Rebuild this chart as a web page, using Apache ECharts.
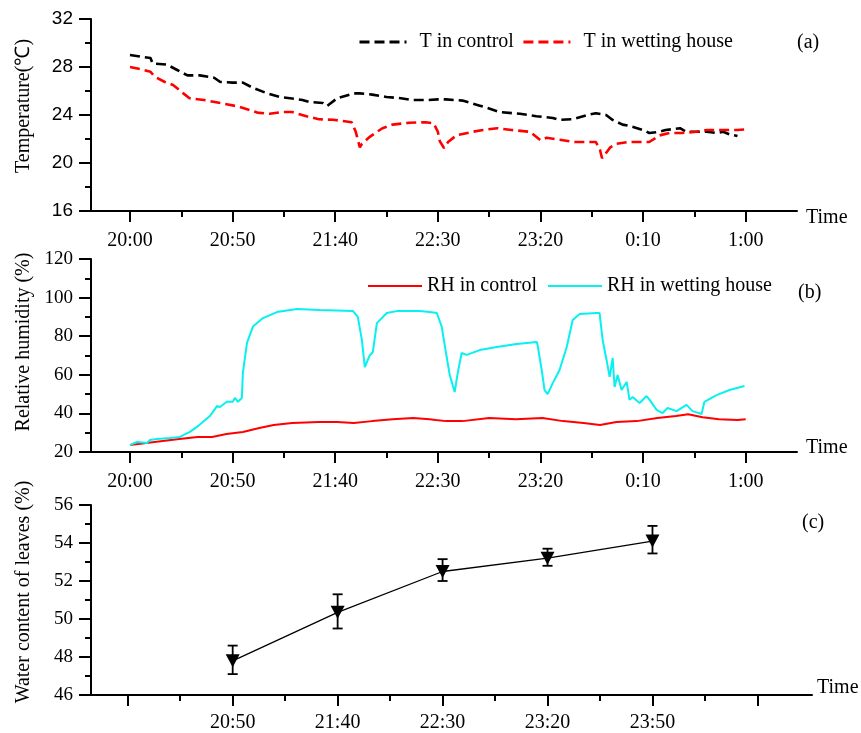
<!DOCTYPE html>
<html>
<head>
<meta charset="utf-8">
<script src="https://cdn.jsdelivr.net/npm/echarts@6/dist/echarts.min.js"></script>
<style>
html,body{margin:0;padding:0;background:#fff;}
#main{width:861px;height:733px;}
</style>
</head>
<body>
<div id="main"></div>
<script>
// minutes after 20:00
var timeTickMins = [0, 50, 100, 150, 200, 250, 300];
var timeTickLabels = ['20:00', '20:50', '21:40', '22:30', '23:20', '0:10', '1:00'];
var timeMinorMins = [25, 75, 125, 175, 225, 275];

// (a) temperature
var tControl = [[0,29.0],[10,28.75],[11,28.3],[18,28.2],[23,27.75],[28,27.3],[34,27.3],[41,27.1],[44,26.75],[50,26.7],[55,26.7],[60,26.25],[67,25.8],[73,25.5],[78,25.4],[84,25.25],[87,25.1],[94,25.0],[96,24.75],[101,25.4],[109,25.8],[112,25.8],[118,25.7],[125,25.5],[132,25.4],[137,25.25],[145,25.25],[150,25.3],[154,25.3],[162,25.2],[170,24.8],[174,24.6],[180,24.25],[190,24.1],[198,23.9],[206,23.75],[209,23.6],[216,23.65],[223,24.0],[227,24.15],[232,24.0],[235,23.6],[240,23.2],[243,23.1],[250,22.75],[253,22.5],[258,22.6],[261,22.75],[268,22.9],[271,22.6],[276,22.6],[281,22.6],[286,22.5],[289,22.6],[292,22.4],[296,22.25]];
var tWet = [[0,28.0],[3,27.9],[10,27.6],[12,27.2],[17,26.75],[21,26.5],[26,25.8],[29,25.4],[36,25.25],[44,25.0],[53,24.7],[62,24.2],[68,24.1],[74,24.25],[79,24.25],[86,23.9],[92,23.65],[99,23.6],[108,23.4],[110,22.6],[112,21.3],[113,21.6],[117,22.2],[123,22.9],[128,23.2],[136,23.35],[144,23.4],[148,23.3],[150,22.6],[151,21.8],[153,21.25],[155,21.75],[159,22.3],[167,22.6],[172,22.75],[179,22.9],[186,22.75],[195,22.6],[200,21.9],[203,22.1],[211,21.9],[216,21.75],[227,21.75],[229,21.1],[230,20.4],[234,21.3],[237,21.6],[243,21.75],[253,21.75],[258,22.3],[263,22.5],[269,22.5],[276,22.6],[281,22.75],[296,22.75],[300,22.8]];

// (b) relative humidity
var rhControl = [[0,23.6],[8,24.7],[16,25.7],[24,26.7],[33,27.8],[40,27.8],[47,29.3],[55,30.4],[63,32.4],[70,34],[79,35],[92,35.5],[101,35.5],[109,35],[118,36],[128,37],[138,37.6],[146,37],[149,36.6],[154,36],[162,36],[175,37.6],[188,37],[201,37.6],[211,36],[221,35],[229,34],[237,35.5],[247,36],[257,37.6],[266,38.6],[272,39.6],[279,38],[287,37],[296,36.6],[300,37]];
var rhWet = [[0,23.6],[3.4,25.2],[8.3,24.7],[9.7,26.2],[13.1,26.7],[19.5,27.3],[24.3,27.8],[29.2,30.4],[32.6,33],[35.5,35.5],[38.9,38.6],[42.4,43.8],[43.8,43.3],[47.2,46],[50.1,46],[51.1,48],[52.6,46],[54.5,48],[55,61],[57,76.5],[59.9,85],[64.8,89.4],[71.6,92.5],[81.3,94.1],[92.5,93.6],[108.6,93.1],[111,90],[113,78],[114.4,64],[116.8,70],[118.3,71.8],[120.3,86.8],[125.1,92],[130,93],[141.2,93.1],[146,92.5],[149.5,92],[151.9,84.8],[154.3,69.2],[155.8,59.9],[158.2,51.1],[159.7,61],[161.6,71.3],[164.1,70.3],[170.4,72.8],[178.7,74.4],[188.4,76],[198.2,77],[198.6,75.4],[200.6,62.5],[202,52.1],[203.5,50],[206,55.7],[209.3,62.5],[212.8,74.4],[215.7,88.4],[219.1,91.5],[227.4,92],[228.8,92],[230.3,78],[232.2,67.7],[233.7,58.9],[235.2,68.7],[236.1,53.7],[237.6,59.9],[239.5,52.1],[242,56.3],[243.4,47],[244.9,48.5],[248.3,45.4],[251.7,49],[253.2,47],[256.6,41.8],[259.5,40.2],[261.9,42.8],[266.3,41.2],[271.2,44.4],[274.1,41.2],[278.5,39.7],[279.9,46],[285.8,49.5],[292.1,52.1],[299.4,54.2]];

// (c) water content of leaves
var wcPos = [1, 2, 3, 4, 5];
var wcLabels = ['20:50', '21:40', '22:30', '23:20', '23:50'];
var wcMean = [47.8, 50.35, 52.5, 53.2, 54.1];
var wcHigh = [48.6, 51.3, 53.15, 53.7, 54.9];
var wcLow = [47.1, 49.5, 52.0, 52.8, 53.45];
var wcMajor = [0, 1, 2, 3, 4, 5, 6];
var wcMinor = [0.5, 1.5, 2.5, 3.5, 4.5, 5.5];

var serif = '"Liberation Serif", "Times New Roman", serif';
var sans = '"Liberation Sans", Arial, sans-serif';
var cyan = '#08f0f0';
var axisLine = {show: true, onZero: false, lineStyle: {color: '#000', width: 2}};

function timeAxis(gi) {
  return {
    type: 'value', gridIndex: gi, position: 'bottom', min: -19, max: 325,
    axisLine: axisLine, splitLine: {show: false},
    axisTick: {show: true, length: 11, customValues: timeTickMins, lineStyle: {color: '#000', width: 2}},
    axisLabel: {show: true, customValues: timeTickMins, margin: 20, color: '#000', fontFamily: serif, fontSize: 20,
      formatter: function (v) { return timeTickLabels[timeTickMins.indexOf(v)]; }}
  };
}
function minorAxis(gi, min, max, vals) {
  return {
    type: 'value', gridIndex: gi, position: 'bottom', min: min, max: max,
    axisLine: {show: false}, splitLine: {show: false}, axisLabel: {show: false},
    axisTick: {show: true, length: 6, customValues: vals, lineStyle: {color: '#000', width: 2}}
  };
}
function yAxis(gi, min, max, step, font) {
  return {
    type: 'value', gridIndex: gi, min: min, max: max, interval: step,
    axisLine: axisLine, splitLine: {show: false},
    axisTick: {show: true, length: 12, lineStyle: {color: '#000', width: 2}},
    minorTick: {show: true, splitNumber: 2, length: 6, lineStyle: {color: '#000', width: 2}},
    axisLabel: {margin: 18, color: '#000', fontFamily: font, fontSize: 19}
  };
}
function txt(x, y, s, rot) {
  return {type: 'text', x: x, y: y, rotation: rot || 0,
    style: {text: s, fill: '#000', font: '20px ' + serif,
      align: rot ? 'center' : 'left', verticalAlign: 'middle',
      textAlign: rot ? 'center' : 'left', textVerticalAlign: 'middle'}};
}

var chart = echarts.init(document.getElementById('main'));
chart.setOption({
  backgroundColor: '#fff',
  animation: false,
  grid: [
    {left: 91, top: 19, width: 706, height: 192},
    {left: 91, top: 259, width: 706, height: 193},
    {left: 91, top: 505, width: 721, height: 193}
  ],
  xAxis: [
    timeAxis(0), minorAxis(0, -19, 325, timeMinorMins),
    timeAxis(1), minorAxis(1, -19, 325, timeMinorMins),
    {
      type: 'value', gridIndex: 2, position: 'bottom', min: -0.35, max: 6.52,
      axisLine: axisLine, splitLine: {show: false},
      axisTick: {show: true, length: 11, customValues: wcMajor, lineStyle: {color: '#000', width: 2}},
      axisLabel: {show: true, customValues: wcPos, margin: 18, color: '#000', fontFamily: serif, fontSize: 20,
        formatter: function (v) { return wcLabels[wcPos.indexOf(v)]; }}
    },
    minorAxis(2, -0.35, 6.52, wcMinor)
  ],
  yAxis: [
    yAxis(0, 16, 32, 4, sans),
    yAxis(1, 20, 120, 20, serif),
    yAxis(2, 46, 56, 2, serif)
  ],
  legend: [
    {data: ['T in control', 'T in wetting house'], left: 358, top: 32, padding: 0,
      itemWidth: 47, itemHeight: 14, itemGap: 8, itemStyle: {opacity: 0},
      lineStyle: {width: 3},
      textStyle: {fontFamily: serif, fontSize: 20, color: '#000', padding: [0, 0, 0, 8]}},
    {data: ['RH in control', 'RH in wetting house'], left: 367, top: 276, padding: 0,
      itemWidth: 54, itemHeight: 14, itemGap: 10, itemStyle: {opacity: 0},
      textStyle: {fontFamily: serif, fontSize: 20, color: '#000'}}
  ],
  graphic: [
    txt(24, 106, 'Temperature(\u2103)', Math.PI / 2),
    txt(24, 342, 'Relative humidity (%)', Math.PI / 2),
    txt(24, 592, 'Water content of leaves (%)', Math.PI / 2),
    txt(806, 218, 'Time'), txt(806, 448, 'Time'), txt(817, 688, 'Time'),
    txt(797, 43, '(a)'), txt(798, 293, '(b)'), txt(802, 523, '(c)')
  ],
  series: [
    {name: 'T in control', type: 'line', xAxisIndex: 0, yAxisIndex: 0, data: tControl,
      symbol: 'none', showSymbol: false, lineStyle: {color: '#000', width: 2.6, type: [10, 5]}, itemStyle: {color: '#000'}},
    {name: 'T in wetting house', type: 'line', xAxisIndex: 0, yAxisIndex: 0, data: tWet,
      symbol: 'none', showSymbol: false, lineStyle: {color: '#ff0000', width: 2.6, type: [10, 5]}, itemStyle: {color: '#ff0000'}},
    {name: 'RH in control', type: 'line', xAxisIndex: 2, yAxisIndex: 1, data: rhControl,
      symbol: 'none', showSymbol: false, lineStyle: {color: '#ff0000', width: 2}, itemStyle: {color: '#ff0000'}},
    {name: 'RH in wetting house', type: 'line', xAxisIndex: 2, yAxisIndex: 1, data: rhWet,
      symbol: 'none', showSymbol: false, lineStyle: {color: cyan, width: 2}, itemStyle: {color: cyan}},
    {type: 'custom', xAxisIndex: 4, yAxisIndex: 2,
      data: wcPos.map(function (p, i) { return [p, wcLow[i], wcHigh[i]]; }),
      encode: {x: 0, y: [1, 2]},
      renderItem: function (params, api) {
        var lo = api.coord([api.value(0), api.value(1)]);
        var hi = api.coord([api.value(0), api.value(2)]);
        var w = 5, st = {stroke: '#000', lineWidth: 1.8};
        return {type: 'group', children: [
          {type: 'line', shape: {x1: lo[0], y1: lo[1], x2: hi[0], y2: hi[1]}, style: st},
          {type: 'line', shape: {x1: hi[0] - w, y1: hi[1], x2: hi[0] + w, y2: hi[1]}, style: st},
          {type: 'line', shape: {x1: lo[0] - w, y1: lo[1], x2: lo[0] + w, y2: lo[1]}, style: st}
        ]};
      }},
    {type: 'line', xAxisIndex: 4, yAxisIndex: 2, z: 3,
      data: wcPos.map(function (p, i) { return [p, wcMean[i]]; }),
      symbol: 'triangle', symbolRotate: 180, symbolSize: [14, 13], showSymbol: true,
      lineStyle: {color: '#000', width: 1.3}, itemStyle: {color: '#000'}}
  ]
});
</script>
</body>
</html>
